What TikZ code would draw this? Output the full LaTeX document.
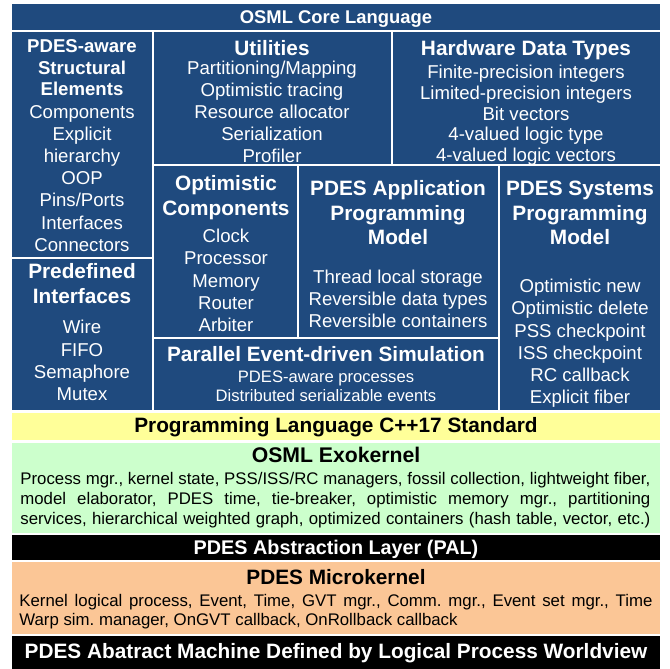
\documentclass[tikz,border=0pt]{standalone}
\usepackage{fontspec}
\setmainfont{Liberation Sans}
\usepackage{tikz}
\frenchspacing

\definecolor{osmlblue}{RGB}{31,74,126}
\definecolor{cppyellow}{RGB}{255,255,153}
\definecolor{exogreen}{RGB}{204,255,204}
\definecolor{microorange}{RGB}{251,198,150}

\tikzset{
  layer/.style={draw=white, line width=1.25pt},
  title/.style={anchor=base, inner sep=0pt, font=\fontsize{10.4}{12}\selectfont\bfseries},
  item/.style={anchor=base, inner sep=0pt, font=\fontsize{9.3}{11}\selectfont},
  small/.style={anchor=base, inner sep=0pt, font=\fontsize{8.4}{10}\selectfont},
}

\begin{document}
\begin{tikzpicture}[x=0.5pt,y=-0.5pt]
    \useasboundingbox (0,0) rectangle (670,669);
    % Blue blocks of the core language
    \draw[layer, fill=osmlblue] (11,3) rectangle (661,31);
    \draw[layer, fill=osmlblue] (11,31) rectangle (153,258);
    \draw[layer, fill=osmlblue] (153,31) rectangle (392,165);
    \draw[layer, fill=osmlblue] (392,31) rectangle (661,165);
    \draw[layer, fill=osmlblue] (153,165) rectangle (298,338);
    \draw[layer, fill=osmlblue] (298,165) rectangle (499,338);
    \draw[layer, fill=osmlblue] (499,165) rectangle (661,411.5);
    \draw[layer, fill=osmlblue] (11,258) rectangle (153,411.5);
    \draw[layer, fill=osmlblue] (153,338) rectangle (499,411.5);
    % Lower layers
    \draw[layer, fill=cppyellow] (11,411.5) rectangle (661,441.5);
    \draw[layer, fill=exogreen] (11,441.5) rectangle (661,534);
    \draw[layer, fill=black] (11,534) rectangle (661,561);
    \draw[layer, fill=microorange] (11,561) rectangle (661,635);
    \draw[layer, fill=black] (11,635) rectangle (661,672);
    \begin{scope}[text=white]
      % Core language
      \node[title, font=\fontsize{9.2}{11}\selectfont\bfseries] (core) at (336,23.5) {OSML Core Language};
      % Structural elements
      \foreach \s [count=\i] in {PDES-aware, Structural, Elements}
        \node[title, font=\fontsize{9.3}{11}\selectfont\bfseries] (struct-h\i) at (82,32+21*\i) {\s};
      \foreach \s [count=\i from 0] in {Components, Explicit, hierarchy, OOP, Pins/Ports, Interfaces, Connectors}
        \node[item] (struct-\i) at (82,118.5+22.1*\i) {\s};
      % Utilities
      \node[title] (util-h) at (272,55.5) {Utilities};
      \foreach \s [count=\i from 0] in {Partitioning/Mapping, Optimistic tracing, Resource allocator, Serialization, Profiler}
        \node[item] (util-\i) at (272,74+22*\i) {\s};
      % Hardware data types
      \node[title] (hw-h) at (526,55.5) {Hardware Data Types};
      \foreach \s [count=\i from 0] in {Finite-precision integers, Limited-precision integers, Bit vectors, 4-valued logic type, 4-valued logic vectors}
        \node[item] (hw-\i) at (526,78.5+20.8*\i) {\s};
      % Optimistic components
      \foreach \s [count=\i from 0] in {Optimistic, Components}
        \node[title] (opt-h\i) at (226,190.5+25*\i) {\s};
      \foreach \s [count=\i from 0] in {Clock, Processor, Memory, Router, Arbiter}
        \node[item] (opt-\i) at (226,242.7+22.2*\i) {\s};
      % Application programming model
      \foreach \s [count=\i from 0] in {PDES Application, Programming, Model}
        \node[title] (app-h\i) at (398,195.5+24.5*\i) {\s};
      \foreach \s [count=\i from 0] in {Thread local storage, Reversible data types, Reversible containers}
        \node[item] (app-\i) at (398,283.7+22*\i) {\s};
      % Systems programming model
      \foreach \s [count=\i from 0] in {PDES Systems, Programming, Model}
        \node[title] (sys-h\i) at (580,195.5+24.5*\i) {\s};
      \foreach \s [count=\i from 0] in {Optimistic new, Optimistic delete, PSS checkpoint, ISS checkpoint, RC callback, Explicit fiber}
        \node[item] (sys-\i) at (580,292.7+22.2*\i) {\s};
      % Predefined interfaces
      \foreach \s [count=\i from 0] in {Predefined, Interfaces}
        \node[title] (pre-h\i) at (82,278.5+25*\i) {\s};
      \foreach \s [count=\i from 0] in {Wire, FIFO, Semaphore, Mutex}
        \node[item] (pre-\i) at (82,333.7+22.4*\i) {\s};
      % Parallel event-driven simulation
      \node[title] (sim-h) at (326,361.5) {Parallel Event-driven Simulation};
      \node[small, font=\fontsize{8.3}{10}\selectfont] (sim-0) at (326,382) {PDES-aware processes};
      \node[small, font=\fontsize{8.3}{10}\selectfont] (sim-1) at (326,401) {Distributed serializable events};
      % Black bars
      \node[title, font=\fontsize{9.9}{12}\selectfont\bfseries] (pal) at (336,554.5) {PDES Abstraction Layer (PAL)};
      \node[title] (machine) at (336,658.5) {PDES Abatract Machine Defined by Logical Process Worldview};
    \end{scope}
    % C++ standard
    \node[title] (cpp) at (336,432.5) {Programming Language C++17 Standard};
    % Exokernel
    \node[title, font=\fontsize{10.6}{12}\selectfont\bfseries] (exo-h) at (336,462.5) {OSML Exokernel};
    \node[small, anchor=base west] (exo-1) at (20,484) {\makebox[315pt][s]{Process mgr., kernel state, PSS/ISS/RC managers, fossil collection, lightweight fiber,}};
    \node[small, anchor=base west] (exo-2) at (20,504) {\makebox[315pt][s]{model elaborator, PDES time, tie-breaker, optimistic memory mgr., partitioning}};
    \node[small, anchor=base west] (exo-3) at (20,524) {\makebox[315pt][s]{services, hierarchical weighted graph, optimized containers (hash table, vector, etc.)}};
    % Microkernel
    \node[title] (micro-h) at (336,584.5) {PDES Microkernel};
    \node[small, anchor=base west] (micro-1) at (19,606) {\makebox[316.5pt][s]{Kernel logical process, Event, Time, GVT mgr., Comm. mgr., Event set mgr., Time}};
    \node[small, anchor=base west] (micro-2) at (19,625) {Warp sim. manager, OnGVT callback, OnRollback callback};
\end{tikzpicture}
\end{document}
